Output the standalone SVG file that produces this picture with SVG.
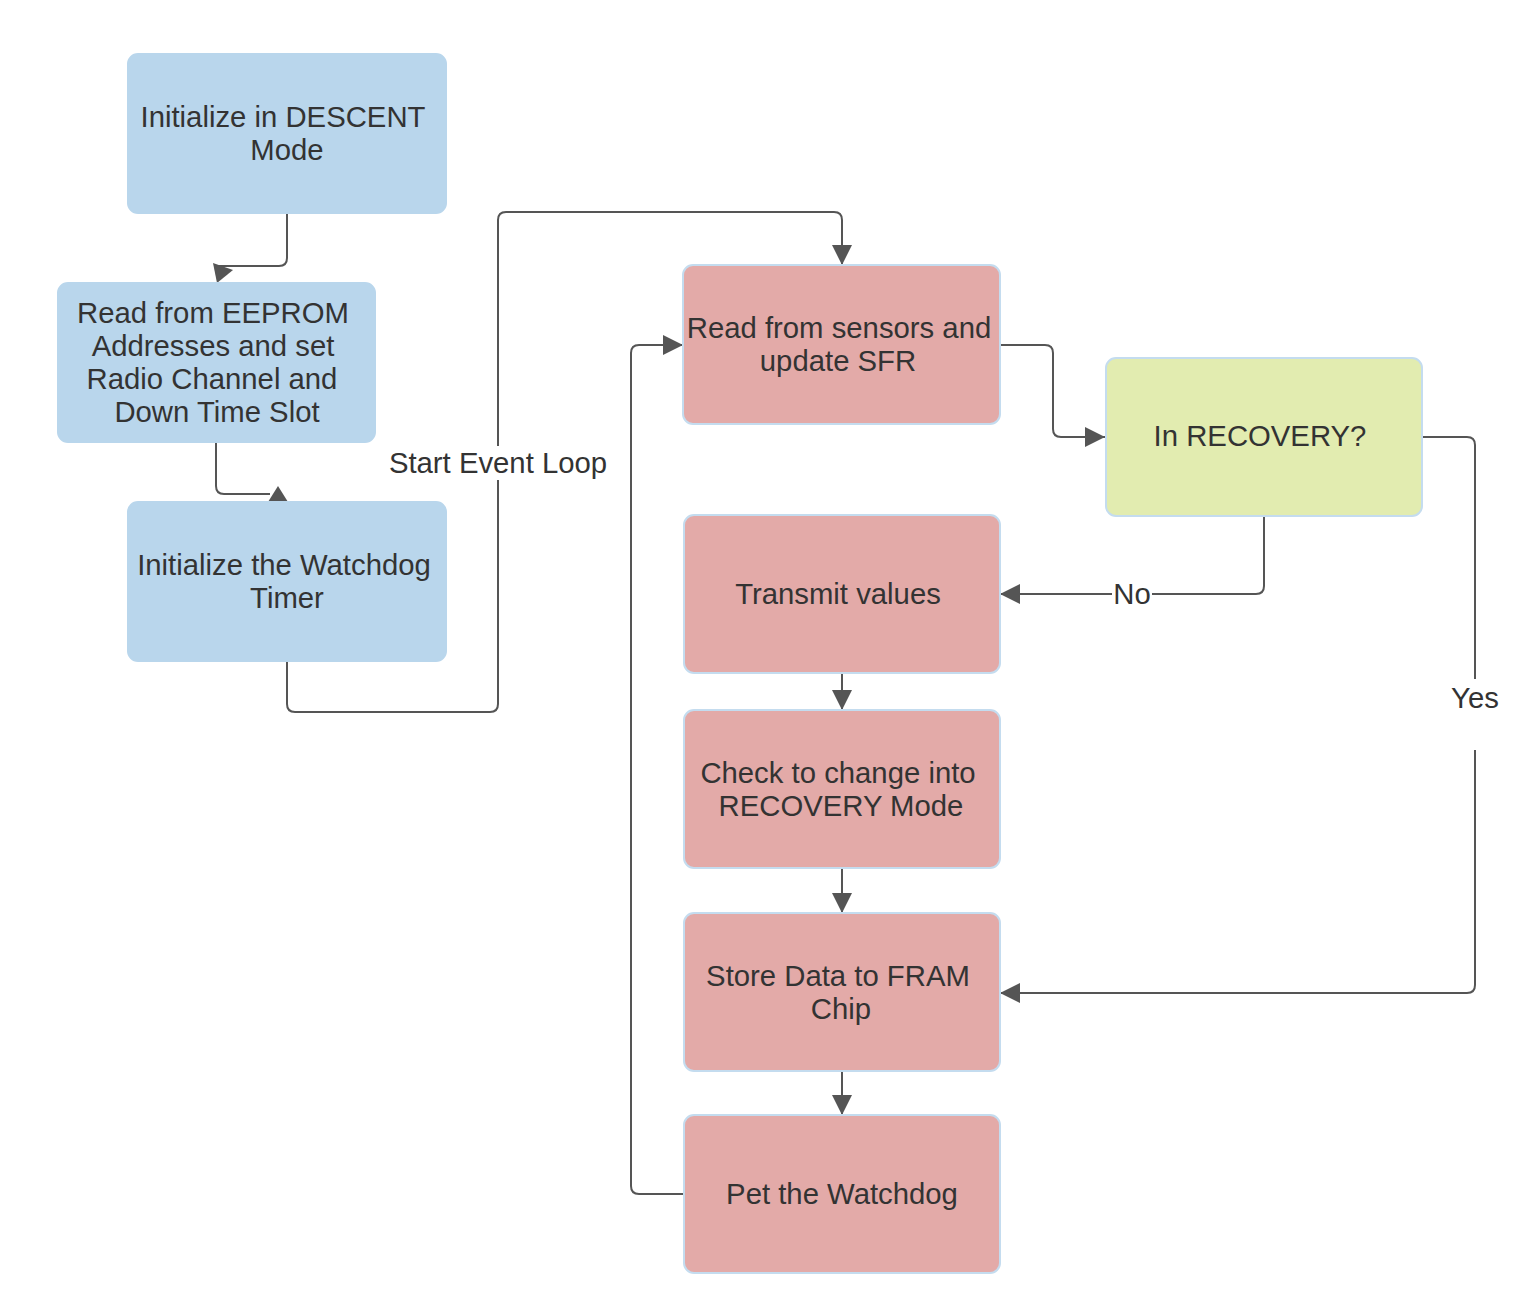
<svg xmlns="http://www.w3.org/2000/svg" width="1524" height="1304" viewBox="0 0 1524 1304">
<defs>
<style>
.n rect{stroke:#c4dcef;stroke-width:2}
.blue rect{fill:#b9d6ec;stroke:#b9d6ec}
.red rect{fill:#e3aaa8}
.green rect{fill:#e2ecb0}
text{font-family:"Liberation Sans",Arial,sans-serif;font-size:29.3px;fill:#333;text-anchor:middle}
.c path{fill:none;stroke:#555;stroke-width:2}
.ah{fill:#555;stroke:none}
.lbl{fill:#fff}
</style>
<marker id="arr" viewBox="0 0 20 20" refX="20" refY="10" markerWidth="20" markerHeight="20" markerUnits="userSpaceOnUse" orient="auto">
<path d="M0,0 L20,10 L0,20 Z" fill="#555"/>
</marker>
</defs>
<rect width="1524" height="1304" fill="#fff"/>
<g id="connectors" class="c">
<path d="M287,214 V258 Q287,266 279,266 H218"/>
<polygon class="ah" points="213,263 233,270 217,283"/>
<path d="M216,442 V486 Q216,494 224,494 H270"/>
<polygon class="ah" points="278,486 288,502 268,502"/>
<path d="M287,661 V704 Q287,712 295,712 H490 Q498,712 498,704 V220 Q498,212 506,212 H834 Q842,212 842,220 V265" marker-end="url(#arr)"/>
<path d="M683,1194 H639 Q631,1194 631,1186 V353 Q631,345 639,345 H683" marker-end="url(#arr)"/>
<path d="M1000,345 H1045 Q1053,345 1053,353 V429 Q1053,437 1061,437 H1105" marker-end="url(#arr)"/>
<path d="M1264,516 V586 Q1264,594 1256,594 H1000" marker-end="url(#arr)"/>
<path d="M1422,437 H1467 Q1475,437 1475,445 V985 Q1475,993 1467,993 H1000" marker-end="url(#arr)"/>
<path d="M842,673 V710" marker-end="url(#arr)"/>
<path d="M842,868 V913" marker-end="url(#arr)"/>
<path d="M842,1071 V1115" marker-end="url(#arr)"/>
<rect class="lbl" x="384" y="446" width="228" height="34"/>
<text x="498" y="473">Start Event Loop</text>
<rect class="lbl" x="1112" y="578" width="40" height="32"/>
<text x="1132" y="604">No</text>
<rect class="lbl" x="1446" y="679" width="58" height="71"/>
<text x="1475" y="708">Yes</text>
</g>
<g id="n1" class="n blue"><rect x="128" y="54" width="318" height="159" rx="10"/><text x="283" y="127">Initialize in DESCENT</text><text x="287" y="160">Mode</text></g>
<g id="n2" class="n blue"><rect x="58" y="283" width="317" height="159" rx="10"/><text x="213" y="323">Read from EEPROM</text><text x="213" y="356">Addresses and set</text><text x="212" y="389">Radio Channel and</text><text x="217" y="422">Down Time Slot</text></g>
<g id="n3" class="n blue"><rect x="128" y="502" width="318" height="159" rx="10"/><text x="284" y="575">Initialize the Watchdog</text><text x="287" y="608">Timer</text></g>
<g id="r1" class="n red"><rect x="683" y="265" width="317" height="159" rx="10"/><text x="839" y="338">Read from sensors and</text><text x="838" y="371">update SFR</text></g>
<g id="g1" class="n green"><rect x="1106" y="358" width="316" height="158" rx="10"/><text x="1260" y="446">In RECOVERY?</text></g>
<g id="r2" class="n red"><rect x="684" y="515" width="316" height="158" rx="10"/><text x="838" y="604">Transmit values</text></g>
<g id="r3" class="n red"><rect x="684" y="710" width="316" height="158" rx="10"/><text x="838" y="783">Check to change into</text><text x="841" y="816">RECOVERY Mode</text></g>
<g id="r4" class="n red"><rect x="684" y="913" width="316" height="158" rx="10"/><text x="838" y="986">Store Data to FRAM</text><text x="841" y="1019">Chip</text></g>
<g id="r5" class="n red"><rect x="684" y="1115" width="316" height="158" rx="10"/><text x="842" y="1204">Pet the Watchdog</text></g>
</svg>
